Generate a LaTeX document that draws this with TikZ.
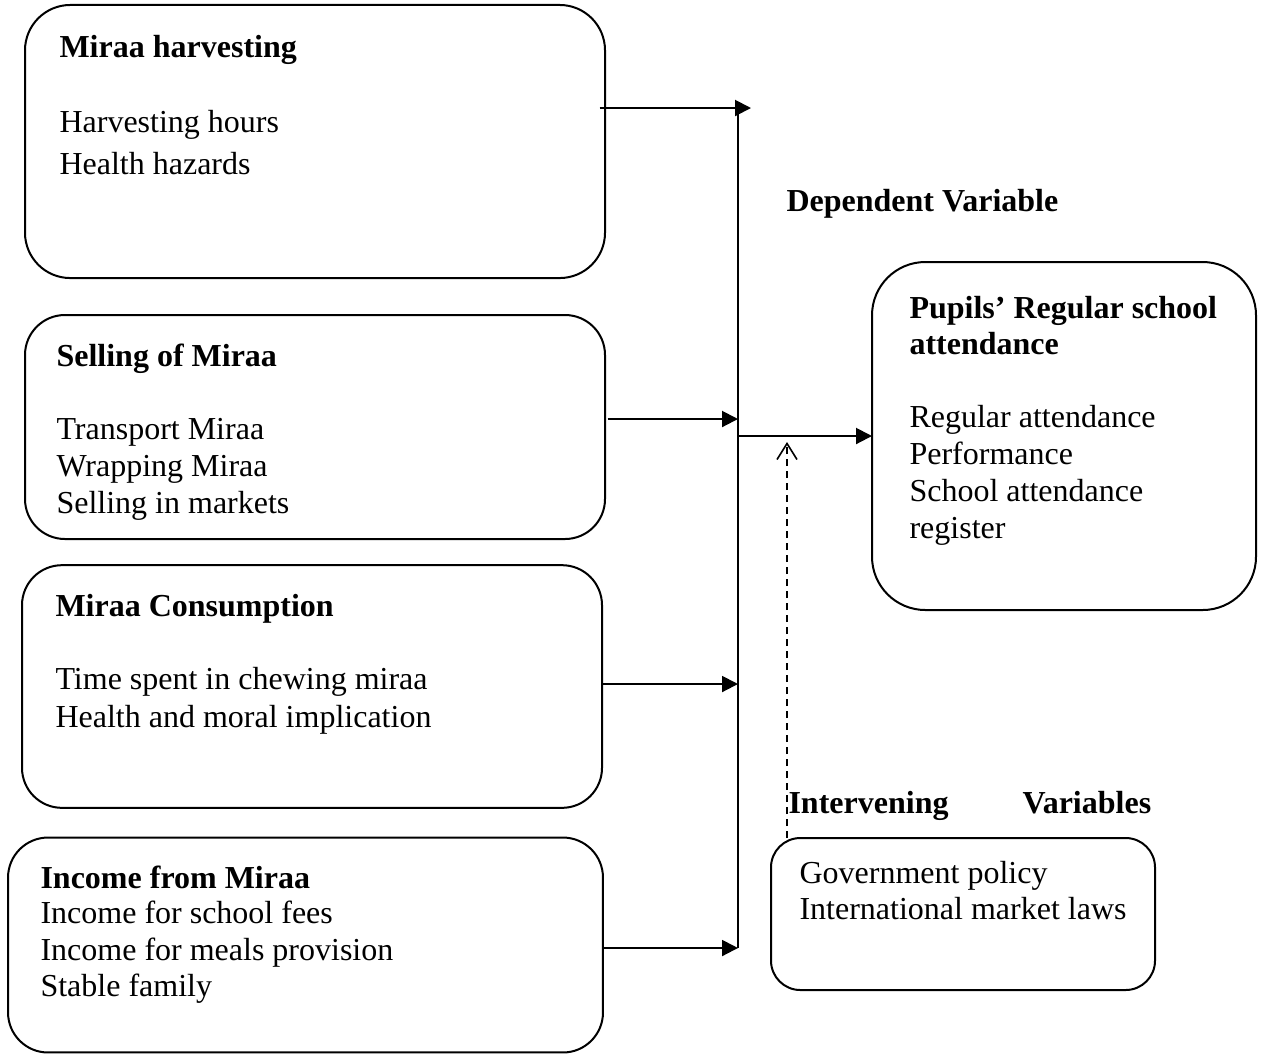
\documentclass[tikz,border=0pt]{standalone}
\usepackage{fontspec}
\setmainfont{Liberation Serif}
\usetikzlibrary{arrows.meta}

\begin{document}
\begin{tikzpicture}[x=0.375pt, y=-0.375pt,
  box/.style={draw, line width=0.75pt, inner sep=0pt, outer sep=0pt},
  txt/.style={anchor=base west, inner sep=0pt, yshift=-0.6pt, font=\fontsize{12}{14}\selectfont},
  head/.style={txt, font=\fontsize{12}{14}\selectfont\bfseries},
  link/.style={line width=0.75pt},
  arr/.style={link, -{Triangle[length=6pt, width=6pt]}},
  dasharr/.style={line width=0.6pt, dash pattern=on 2.6pt off 1.9pt, -{Straight Barb[length=6pt, width=7.5pt]}}]
\useasboundingbox (0,0) rectangle (1262,1055);

% boxes
\node[box, rounded corners=17pt, minimum width=217.5pt, minimum height=102.4pt] (harv) at (315,141.5) {};
\node[box, rounded corners=15pt, minimum width=217.5pt, minimum height=84pt] (sell) at (315,427) {};
\node[box, rounded corners=15pt, minimum width=217.5pt, minimum height=91pt] (cons) at (312,686.5) {};
\node[box, rounded corners=15pt, minimum width=223.1pt, minimum height=80.6pt] (inc) at (305.5,945) {};
\node[box, rounded corners=20pt, minimum width=144pt, minimum height=130.5pt] (attend) at (1064,436) {};
\node[box, rounded corners=11pt, minimum width=144pt, minimum height=57pt] (interv) at (963,914) {};

% texts
\node[head] (harvT) at (59,56) {Miraa harvesting};
\foreach \t [count=\i from 0] in {Harvesting hours, Health hazards}
  \node[txt] (harv\i) at (59,{131+42*\i}) {\t};

\node[head] (sellT) at (56,365) {Selling of Miraa};
\foreach \t [count=\i from 0] in {Transport Miraa, Wrapping Miraa, Selling in markets}
  \node[txt] (sell\i) at (56,{438+37*\i}) {\t};

\node[head] (consT) at (55,615) {Miraa Consumption};
\foreach \t [count=\i from 0] in {Time spent in chewing miraa, Health and moral implication}
  \node[txt] (cons\i) at (55,{688+38*\i}) {\t};

\node[head] (incT) at (40,887) {Income from Miraa};
\foreach \t [count=\i from 0] in {Income for school fees, Income for meals provision, Stable family}
  \node[txt] (inc\i) at (40,{922+36.5*\i}) {\t};

\node[head] (depT) at (786,210) {Dependent Variable};
\node[head] (attT0) at (909,317) {Pupils’ Regular school};
\node[head] (attT1) at (909,353) {attendance};
\foreach \t [count=\i from 0] in {Regular attendance, Performance, School attendance, register}
  \node[txt] (att\i) at (909,{426+37*\i}) {\t};

\node[head] (intT) at (788,812) {\hbox to 136pt{Intervening\hfil Variables}};
\foreach \t [count=\i from 0] in {Government policy, International market laws}
  \node[txt] (int\i) at (799,{882+36*\i}) {\t};

% connectors
\coordinate (a1) at (751,108);
\coordinate (bt) at (738,113);
\coordinate (a2) at (738,419);
\coordinate (out) at (738,436);
\coordinate (a3) at (738,684);
\coordinate (a4) at (738,948);
\coordinate (tip) at (787,442);
\draw[link] (bt) -- (a4);
\draw[arr] ([xshift=-2pt]harv.east |- a1) -- (a1);
\draw[arr] ([xshift=1pt]sell.east |- a2) -- (a2);
\draw[arr] (cons.east |- a3) -- (a3);
\draw[arr] (inc.east |- a4) -- (a4);
\draw[arr] (out) -- (attend.west);
\draw[dasharr] (interv.north -| tip) -- (tip);
\end{tikzpicture}
\end{document}
